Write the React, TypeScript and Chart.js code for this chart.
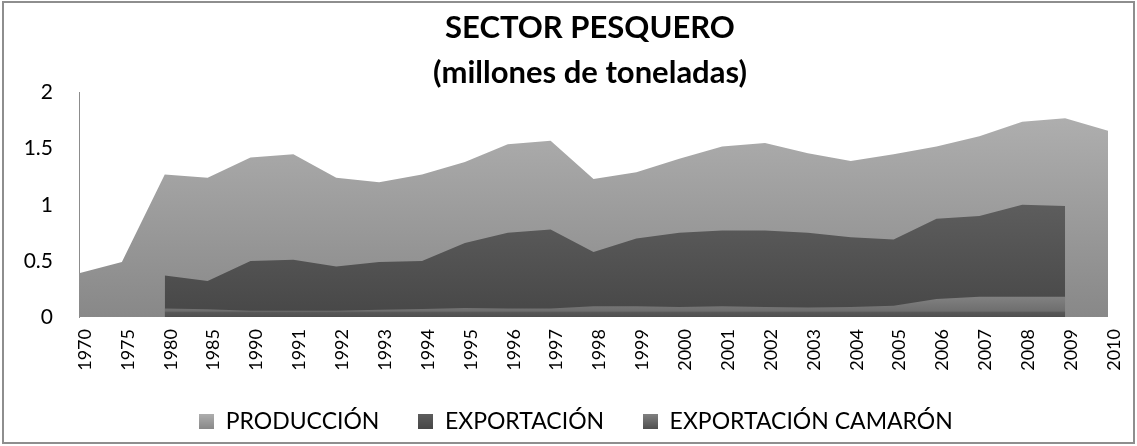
import { useEffect, useRef } from 'react';
import { Chart, registerables } from 'chart.js';

Chart.register(...registerables);

const categories = [
  '1970', '1975', '1980', '1985', '1990', '1991', '1992', '1993', '1994', '1995',
  '1996', '1997', '1998', '1999', '2000', '2001', '2002', '2003', '2004', '2005',
  '2006', '2007', '2008', '2009', '2010',
];

const produccion = [
  0.39, 0.49, 1.27, 1.24, 1.42, 1.45, 1.24, 1.2, 1.27, 1.38,
  1.54, 1.57, 1.23, 1.29, 1.41, 1.52, 1.55, 1.46, 1.39, 1.45,
  1.52, 1.61, 1.74, 1.77, 1.66,
];

const exportacion = [
  null, null, 0.37, 0.32, 0.5, 0.51, 0.45, 0.49, 0.5, 0.66,
  0.75, 0.78, 0.58, 0.7, 0.75, 0.77, 0.77, 0.75, 0.71, 0.69,
  0.875, 0.9, 1.0, 0.99, null,
];

const camaron = [
  null, null, 0.075, 0.068, 0.055, 0.055, 0.055, 0.065, 0.072, 0.08,
  0.075, 0.075, 0.095, 0.095, 0.09, 0.095, 0.09, 0.085, 0.09, 0.1,
  0.16, 0.18, 0.18, 0.18, null,
];

const yTicks = [0, 0.5, 1, 1.5, 2];

const seriesNames = ['PRODUCCIÓN', 'EXPORTACIÓN', 'EXPORTACIÓN CAMARÓN'];

const FONT = 'Lato';

type Stop = [number, string];

const prodStops: Stop[] = [[0, '#aeaeae'], [1, '#888888']];
const expStops: Stop[] = [[0, '#5d5d5d'], [1, '#474747']];
const camStops: Stop[] = [[0, '#818181'], [0.7, '#6e6e6e'], [0.78, '#575757'], [1, '#4f4f4f']];

function maxOf(arr: (number | null)[]) {
  return Math.max(...(arr.filter((v) => v !== null) as number[]));
}

function gradientFill(stops: Stop[], data: (number | null)[]) {
  const top = maxOf(data);
  return (ctx: any) => {
    const chart = ctx.chart;
    if (!chart.chartArea || !chart.scales.y) return stops[0][1];
    const y = chart.scales.y;
    const g = chart.ctx.createLinearGradient(0, y.getPixelForValue(top), 0, y.getPixelForValue(0));
    stops.forEach(([o, c]) => g.addColorStop(o, c));
    return g;
  };
}

function legendSwatch(stops: Stop[]) {
  const c = document.createElement('canvas');
  c.width = 15;
  c.height = 15;
  const x = c.getContext('2d')!;
  const g = x.createLinearGradient(0, 0, 0, 15);
  g.addColorStop(0, stops[0][1]);
  g.addColorStop(1, stops[stops.length - 1][1]);
  x.fillStyle = g;
  x.fillRect(0, 0, 15, 15);
  return c;
}

const outerBorder = {
  id: 'outerBorder',
  afterDraw(chart: any) {
    const { ctx } = chart;
    ctx.save();
    ctx.strokeStyle = '#8e8e8e';
    ctx.lineWidth = 2;
    ctx.strokeRect(3, 2, 1131, 441);
    ctx.restore();
  },
};

// Centre the title and legend the way the original does (slightly right of canvas centre)
const shiftBoxes = {
  id: 'shiftBoxes',
  afterLayout(chart: any) {
    const t = chart.titleBlock;
    if (t) {
      t.left += 36;
      t.right += 36;
    }
    const l = chart.legend;
    if (l) {
      l.left += 22;
      l.right += 22;
    }
  },
};

export default function App() {
  const ref = useRef<HTMLCanvasElement | null>(null);

  useEffect(() => {
    if (!ref.current) return;
    const swatches = [legendSwatch(prodStops), legendSwatch(expStops), legendSwatch(camStops)];
    const chart = new Chart(ref.current, {
      type: 'line',
      data: {
        labels: categories,
        datasets: [
          {
            label: seriesNames[0],
            data: produccion,
            fill: 'origin',
            backgroundColor: gradientFill(prodStops, produccion),
            borderWidth: 0,
            pointRadius: 0,
            tension: 0,
            order: 3,
          },
          {
            label: seriesNames[1],
            data: exportacion,
            fill: 'origin',
            backgroundColor: gradientFill(expStops, exportacion),
            borderWidth: 0,
            pointRadius: 0,
            tension: 0,
            order: 2,
          },
          {
            label: seriesNames[2],
            data: camaron,
            fill: 'origin',
            backgroundColor: gradientFill(camStops, camaron),
            borderWidth: 0,
            pointRadius: 0,
            tension: 0,
            order: 1,
          },
        ],
      },
      options: {
        responsive: false,
        animation: false,
        events: [],
        layout: { padding: { left: 0, right: 29, top: 0, bottom: 3 } },
        plugins: {
          title: {
            display: true,
            text: ['SECTOR PESQUERO', '(millones de toneladas)'],
            color: '#000',
            font: { family: FONT, size: 31, weight: 'bold', lineHeight: 1.46 },
            padding: { top: 5, bottom: -3 },
          },
          legend: {
            position: 'bottom',
            labels: {
              usePointStyle: true,
              boxWidth: 15,
              boxHeight: 15,
              padding: 39,
              color: '#000',
              font: { family: FONT, size: 23 },
              generateLabels: (ch: any) =>
                ch.data.datasets.map((ds: any, i: number) => ({
                  text: ds.label,
                  fillStyle: '#888',
                  strokeStyle: 'rgba(0,0,0,0)',
                  lineWidth: 0,
                  pointStyle: swatches[i],
                  hidden: false,
                  datasetIndex: i,
                  fontColor: '#000',
                })),
            },
          },
          tooltip: { enabled: false },
        },
        scales: {
          x: {
            grid: { display: false },
            border: { display: false },
            ticks: {
              autoSkip: false,
              minRotation: 90,
              maxRotation: 90,
              padding: 4,
              labelOffset: 6,
              color: '#000',
              font: { family: FONT, size: 18 },
            },
            afterFit: (s: any) => {
              s.height = 54;
            },
          },
          y: {
            min: 0,
            max: 2,
            afterBuildTicks: (s: any) => {
              s.ticks = yTicks.map((v) => ({ value: v }));
            },
            grid: { display: false, drawTicks: false },
            border: { display: true, color: '#8c8c8c', width: 1 },
            ticks: {
              padding: 26,
              color: '#000',
              font: { family: FONT, size: 21 },
              callback: (v: any) => String(v),
            },
            afterFit: (s: any) => {
              s.width = 79;
            },
          },
        },
      },
      plugins: [outerBorder, shiftBoxes],
    } as any);
    return () => chart.destroy();
  }, []);

  return (
    <div style={{ position: 'absolute', left: 0, top: 0, width: 1137, height: 446, background: '#fff' }}>
      <canvas ref={ref} width={1137} height={446} style={{ display: 'block' }} />
    </div>
  );
}
